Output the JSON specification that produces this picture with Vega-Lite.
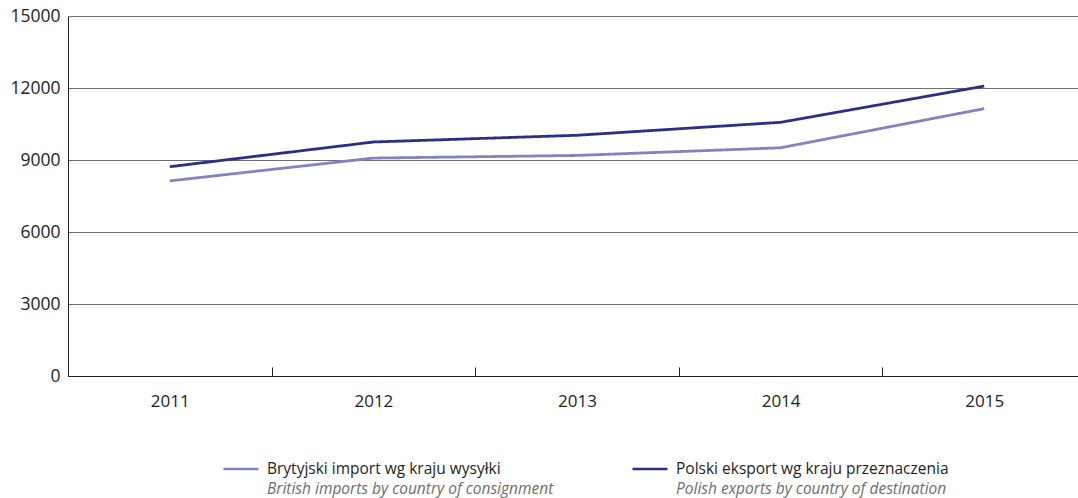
{
  "$schema": "https://vega.github.io/schema/vega-lite/v6.json",
  "width": 1018,
  "height": 360,
  "autosize": {"type": "none"},
  "padding": {"left": 68, "top": 16, "right": 0, "bottom": 122},
  "background": "white",
  "config": {
    "view": {"stroke": null},
    "font": "Open Sans",
    "legend": {
      "orient": "none",
      "symbolType": "stroke",
      "symbolSize": 1225,
      "symbolStrokeWidth": 2.5,
      "labelFontSize": 15.5,
      "labelOffset": 7,
      "labelLimit": 500,
      "padding": 0,
      "labelColor": "#231f20",
      "title": null
    }
  },
  "data": {
    "values": [
      {"year": "2011", "value": 8130, "pl": "Brytyjski import wg kraju wysyłki", "pl2": "Brytyjski import wg kraju wysyłki", "en": "British imports by country of consignment", "en2": "British imports by country of consignment"},
      {"year": "2012", "value": 9080, "pl": "Brytyjski import wg kraju wysyłki", "pl2": "Brytyjski import wg kraju wysyłki", "en": "British imports by country of consignment", "en2": "British imports by country of consignment"},
      {"year": "2013", "value": 9190, "pl": "Brytyjski import wg kraju wysyłki", "pl2": "Brytyjski import wg kraju wysyłki", "en": "British imports by country of consignment", "en2": "British imports by country of consignment"},
      {"year": "2014", "value": 9510, "pl": "Brytyjski import wg kraju wysyłki", "pl2": "Brytyjski import wg kraju wysyłki", "en": "British imports by country of consignment", "en2": "British imports by country of consignment"},
      {"year": "2015", "value": 11140, "pl": "Brytyjski import wg kraju wysyłki", "pl2": "Brytyjski import wg kraju wysyłki", "en": "British imports by country of consignment", "en2": "British imports by country of consignment"},
      {"year": "2011", "value": 8720, "pl": "Polski eksport wg kraju przeznaczenia", "pl2": "Polski eksport wg kraju przeznaczenia", "en": "Polish exports by country of destination", "en2": "Polish exports by country of destination"},
      {"year": "2012", "value": 9750, "pl": "Polski eksport wg kraju przeznaczenia", "pl2": "Polski eksport wg kraju przeznaczenia", "en": "Polish exports by country of destination", "en2": "Polish exports by country of destination"},
      {"year": "2013", "value": 10030, "pl": "Polski eksport wg kraju przeznaczenia", "pl2": "Polski eksport wg kraju przeznaczenia", "en": "Polish exports by country of destination", "en2": "Polish exports by country of destination"},
      {"year": "2014", "value": 10570, "pl": "Polski eksport wg kraju przeznaczenia", "pl2": "Polski eksport wg kraju przeznaczenia", "en": "Polish exports by country of destination", "en2": "Polish exports by country of destination"},
      {"year": "2015", "value": 12080, "pl": "Polski eksport wg kraju przeznaczenia", "pl2": "Polski eksport wg kraju przeznaczenia", "en": "Polish exports by country of destination", "en2": "Polish exports by country of destination"}
    ]
  },
  "mark": {"type": "line", "strokeWidth": 2.8},
  "encoding": {
    "x": {
      "field": "year",
      "type": "ordinal",
      "bandPosition": 0.5,
      "scale": {"type": "band", "paddingInner": 0, "paddingOuter": 0},
      "axis": {
        "title": null,
        "labelAngle": 0,
        "tickBand": "extent",
        "tickSize": -9,
        "tickColor": "#231f20",
        "domainColor": "#231f20",
        "labelFontSize": 17,
        "labelColor": "#231f20",
        "labelPadding": 26,
        "grid": false
      }
    },
    "y": {
      "field": "value",
      "type": "quantitative",
      "scale": {"domain": [0, 15000], "nice": false},
      "axis": {
        "title": null,
        "values": [0, 3000, 6000, 9000, 12000, 15000],
        "format": "d",
        "grid": true,
        "gridColor": "#6d6e71",
        "gridOpacity": 1,
        "ticks": false,
        "domainColor": "#231f20",
        "labelFontSize": 17.5,
        "labelColor": "#231f20",
        "labelPadding": 8
      }
    },
    "color": {
      "field": "pl",
      "type": "nominal",
      "scale": {
        "domain": ["Brytyjski import wg kraju wysyłki", "Polski eksport wg kraju przeznaczenia"],
        "range": ["#8283c2", "#2b2e8c"]
      },
      "legend": {
        "values": ["Brytyjski import wg kraju wysyłki"],
        "legendX": 154,
        "legendY": 434
      }
    },
    "strokeDash": {
      "field": "pl2",
      "type": "nominal",
      "scale": {
        "range": [[1, 0], [1, 0]]
      },
      "legend": {
        "values": ["Polski eksport wg kraju przeznaczenia"],
        "legendX": 563,
        "legendY": 434,
        "symbolStrokeColor": "#2b2e8c"
      }
    },
    "opacity": {
      "field": "en",
      "type": "nominal",
      "scale": {
        "domain": ["British imports by country of consignment", "Polish exports by country of destination"],
        "range": [1, 1]
      },
      "legend": {
        "values": ["British imports by country of consignment"],
        "legendX": 154,
        "legendY": 454,
        "labelFontStyle": "italic",
        "labelColor": "#6d6e71",
        "symbolStrokeColor": "transparent",
        "symbolOpacity": 0
      }
    },
    "strokeWidth": {
      "field": "en2",
      "type": "nominal",
      "scale": {
        "range": [2.8, 2.8]
      },
      "legend": {
        "values": ["Polish exports by country of destination"],
        "legendX": 563,
        "legendY": 454,
        "labelFontStyle": "italic",
        "labelColor": "#6d6e71",
        "symbolStrokeColor": "transparent",
        "symbolOpacity": 0
      }
    }
  }
}
